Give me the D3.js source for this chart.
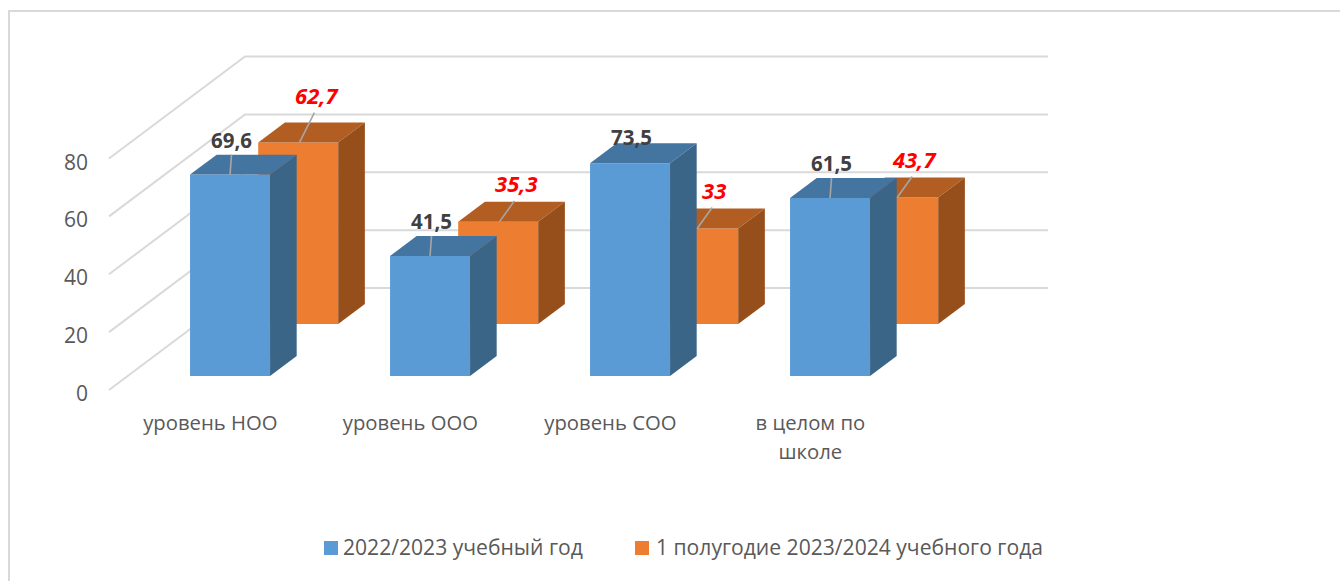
<!DOCTYPE html>
<html>
<head>
<meta charset="utf-8">
<script src="https://cdn.jsdelivr.net/npm/d3@7"></script>
<style>
    html, body { margin: 0; padding: 0; background: #fff; }
    svg { display: block; }
    text { font-family: "Open Sans", sans-serif; }
</style>
</head>
<body>
<svg id="chart" width="1340" height="581"></svg>
<script>
// values
const categories = [["уровень НОО"], ["уровень ООО"], ["уровень СОО"], ["в целом по", "школе"]];
const seriesNames = ["2022/2023 учебный год", "1 полугодие 2023/2024 учебного года"];
const values2022 = [69.6, 41.5, 73.5, 61.5];
const values2023 = [62.7, 35.3, 33, 43.7];
const valueLabels2022 = ["69,6", "41,5", "73,5", "61,5"];
const valueLabels2023 = ["62,7", "35,3", "33", "43,7"];
const yTicks = [0, 20, 40, 60, 80];

const svg = d3.select("#chart");

// oblique projection, same floor as the original 3D chart
const floorY = 390, depthX = 136, depthY = 102, wallRight = 1048;

const x = d3.scaleBand()
    .domain(d3.range(categories.length))
    .range([111.4, 911.4])
    .paddingInner(0.6)
    .paddingOuter(0.3);
const y = d3.scaleLinear().domain([0, 80]).range([0, 231.5]);

// front and back of each series along the depth axis, 0 to 1
const z = d3.scaleOrdinal().domain([0, 1]).range([[0.137, 0.333], [0.647, 0.843]]);
const colours = [
    {front: "#5b9bd5", top: "#4475a1", side: "#3a6587"},
    {front: "#ed7d31", top: "#b25e22", side: "#964f1b"}
];

const project = (px, v, d) => [px + depthX * d, floorY - y(v) - depthY * d];
const poly = pts => pts.map(p => p.join(",")).join(" ");

// walls
svg.append("rect")
    .attr("x", 9).attr("y", 11)
    .attr("width", 1340).attr("height", 600)
    .attr("fill", "#fff")
    .attr("stroke", "#d9d9d9")
    .attr("stroke-width", 2);

const grid = svg.append("g");
yTicks.forEach(t => {
    let a = project(109, t, 0), b = project(109, t, 1);
    grid.append("polyline")
        .attr("points", poly([a, b, [wallRight, b[1]]]))
        .attr("fill", "none")
        .attr("stroke", "#d9d9d9")
        .attr("stroke-width", 2);
});

svg.append("g").selectAll("text").data(yTicks).join("text")
    .attr("x", 88)
    .attr("y", t => floorY - y(t) + 11)
    .attr("text-anchor", "end")
    .attr("font-size", 21)
    .attr("fill", "#595959")
    .text(t => t);

function drawBar(g, cat, seriesIdx, value) {
    let c = colours[seriesIdx];
    let [d0, d1] = z(seriesIdx);
    // orange row sits a little left of where the projection puts it
    let x0 = x(cat) - seriesIdx * 1.2, x1 = x0 + x.bandwidth();
    g.append("polygon").attr("fill", c.front)
        .attr("points", poly([project(x0, 0, d0), project(x1, 0, d0), project(x1, value, d0), project(x0, value, d0)]));
    g.append("polygon").attr("fill", c.top)
        .attr("points", poly([project(x0, value, d0), project(x1, value, d0), project(x1, value, d1), project(x0, value, d1)]));
    g.append("polygon").attr("fill", c.side)
        .attr("points", poly([project(x1, 0, d0), project(x1, 0, d1), project(x1, value, d1), project(x1, value, d0)]));
}

// back row first so the blue bars cover the orange ones
const bars = svg.append("g");
values2023.forEach((v, i) => drawBar(bars, i, 1, v));
values2022.forEach((v, i) => drawBar(bars, i, 0, v));

// leader lines and data labels
const labels = svg.append("g");
function drawLabels(vals, strs, seriesIdx, attrs) {
    vals.forEach((v, i) => {
        let d0 = z(seriesIdx)[0];
        let cx = x(i) + x.bandwidth() / 2;
        let a = project(cx, v, d0);
        // orange leaders start right of the blue bar where it hides the middle
        if (seriesIdx === 1 && i >= 2) a[0] = x(i) + x.bandwidth() + depthX * z(0)[1] + 0.5;
        let extra = attrs.lift[i];
        let b = [a[0] + attrs.leadX, a[1] - attrs.leadY - extra];
        if (extra >= 0) {
            labels.append("line")
                .attr("x1", a[0]).attr("y1", a[1])
                .attr("x2", b[0]).attr("y2", b[1])
                .attr("stroke", "#a6a6a6")
                .attr("stroke-width", 1.6);
        }
        labels.append("text")
            .attr("x", b[0] + attrs.textDx)
            .attr("y", b[1] - attrs.textDy)
            .attr("text-anchor", "middle")
            .attr("font-size", attrs.size)
            .attr("font-weight", 700)
            .attr("font-style", attrs.italic ? "italic" : "normal")
            .attr("fill", attrs.fill)
            .text(strs[i]);
    });
}
// hand-moved labels in the original: 62,7 sits higher, 73,5 drops onto its bar without a leader
drawLabels(values2022, valueLabels2022, 0, {lift: [0, 0, -9, 0], leadX: 1.5, leadY: 20, textDx: 0, textDy: 7, size: 20.5, fill: "#404040"});
drawLabels(values2023, valueLabels2023, 1, {lift: [9, 0, 0, 0], leadX: 15, leadY: 21, textDx: 2, textDy: 9, size: 22, fill: "#ff0000", italic: true});

// category labels
const cats = svg.append("g");
categories.forEach((lines, i) => {
    lines.forEach((line, j) => {
        cats.append("text")
            .attr("x", x(i) + x.bandwidth() / 2 - 1)
            .attr("y", 430 + j * 29)
            .attr("text-anchor", "middle")
            .attr("font-size", 20.3)
            .attr("fill", "#595959")
            .text(line);
    });
});

// legend
const legendX = [324, 635], legendText = [343, 656];
seriesNames.forEach((name, i) => {
    svg.append("rect")
        .attr("x", legendX[i]).attr("y", 541)
        .attr("width", 14).attr("height", 14)
        .attr("fill", colours[i].front);
    svg.append("text")
        .attr("x", legendText[i]).attr("y", 555)
        .attr("font-size", 21.1)
        .attr("fill", "#595959")
        .text(name);
});
</script>
</body>
</html>
